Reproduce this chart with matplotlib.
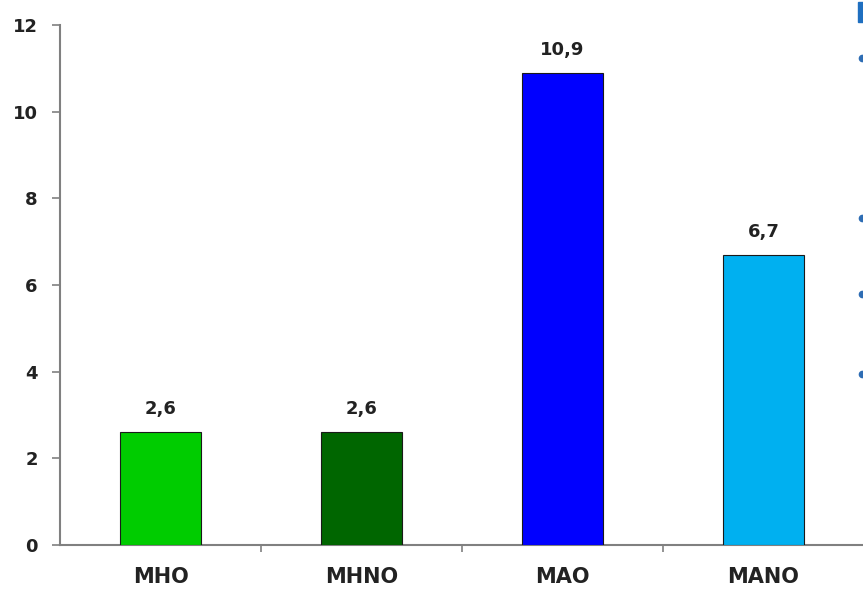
import matplotlib
matplotlib.use("Agg")
import matplotlib.pyplot as plt
from matplotlib.lines import Line2D

categories = ["MHO", "MHNO", "MAO", "MANO"]
values = [2.6, 2.6, 10.9, 6.7]
value_labels = ["2,6", "2,6", "10,9", "6,7"]
bar_colors = ["#00CC00", "#006600", "#0000FF", "#00B0F0"]
y_ticks = [0, 2, 4, 6, 8, 10, 12]

plt.rcParams["font.family"] = ["DejaVu Sans"]

fig = plt.figure(figsize=(8.63, 5.90), dpi=100)
ax = fig.add_axes([60 / 863, 45 / 590, 804 / 863, 520 / 590])

x = list(range(len(categories)))
bars = ax.bar(x, values, width=0.4, color=bar_colors, edgecolor="#1a1a1a", linewidth=0.8, zorder=3)

for rect, lab in zip(bars, value_labels):
    ax.annotate(lab, (rect.get_x() + rect.get_width() / 2, rect.get_height()),
                xytext=(0, 10), textcoords="offset points", ha="center", va="bottom",
                fontsize=13, fontweight="bold", color="#222222")

ax.set_xlim(-0.5, len(categories) - 0.5)
ax.set_ylim(0, 12)
ax.set_yticks(y_ticks)
ax.set_yticklabels([str(t) for t in y_ticks], fontsize=13, fontweight="bold", color="#222222")

# category labels centred under bars, ticks on the category boundaries
ax.set_xticks([i + 0.5 for i in x[:-1]])
ax.set_xticklabels([])
ax.set_xticks(x, minor=True)
ax.set_xticklabels(categories, minor=True, fontsize=15, fontweight="bold", color="#222222")
ax.tick_params(axis="x", which="minor", length=0, pad=16)
ax.tick_params(axis="x", which="major", length=5, width=1.2, color="#808080", direction="out")
ax.tick_params(axis="y", length=6, width=1.2, color="#808080", direction="out", pad=10)

for side in ("top", "right"):
    ax.spines[side].set_visible(False)
for side in ("left", "bottom"):
    ax.spines[side].set_color("#808080")
    ax.spines[side].set_linewidth(1.5)

# edge of the neighbouring bullet list
fig.patches.append(plt.Rectangle((858 / 863, 1 - 22 / 590), 6 / 863, 20 / 590,
                                 transform=fig.transFigure, color="#1F6FC0"))
bullet_y = [58, 218, 294, 374]
fig.lines.append(Line2D([862 / 863] * len(bullet_y), [1 - b / 590 for b in bullet_y],
                        transform=fig.transFigure, linestyle="none", marker="o",
                        markersize=4.5, color="#2E6DB4"))

fig.savefig("out.png", dpi=100)
